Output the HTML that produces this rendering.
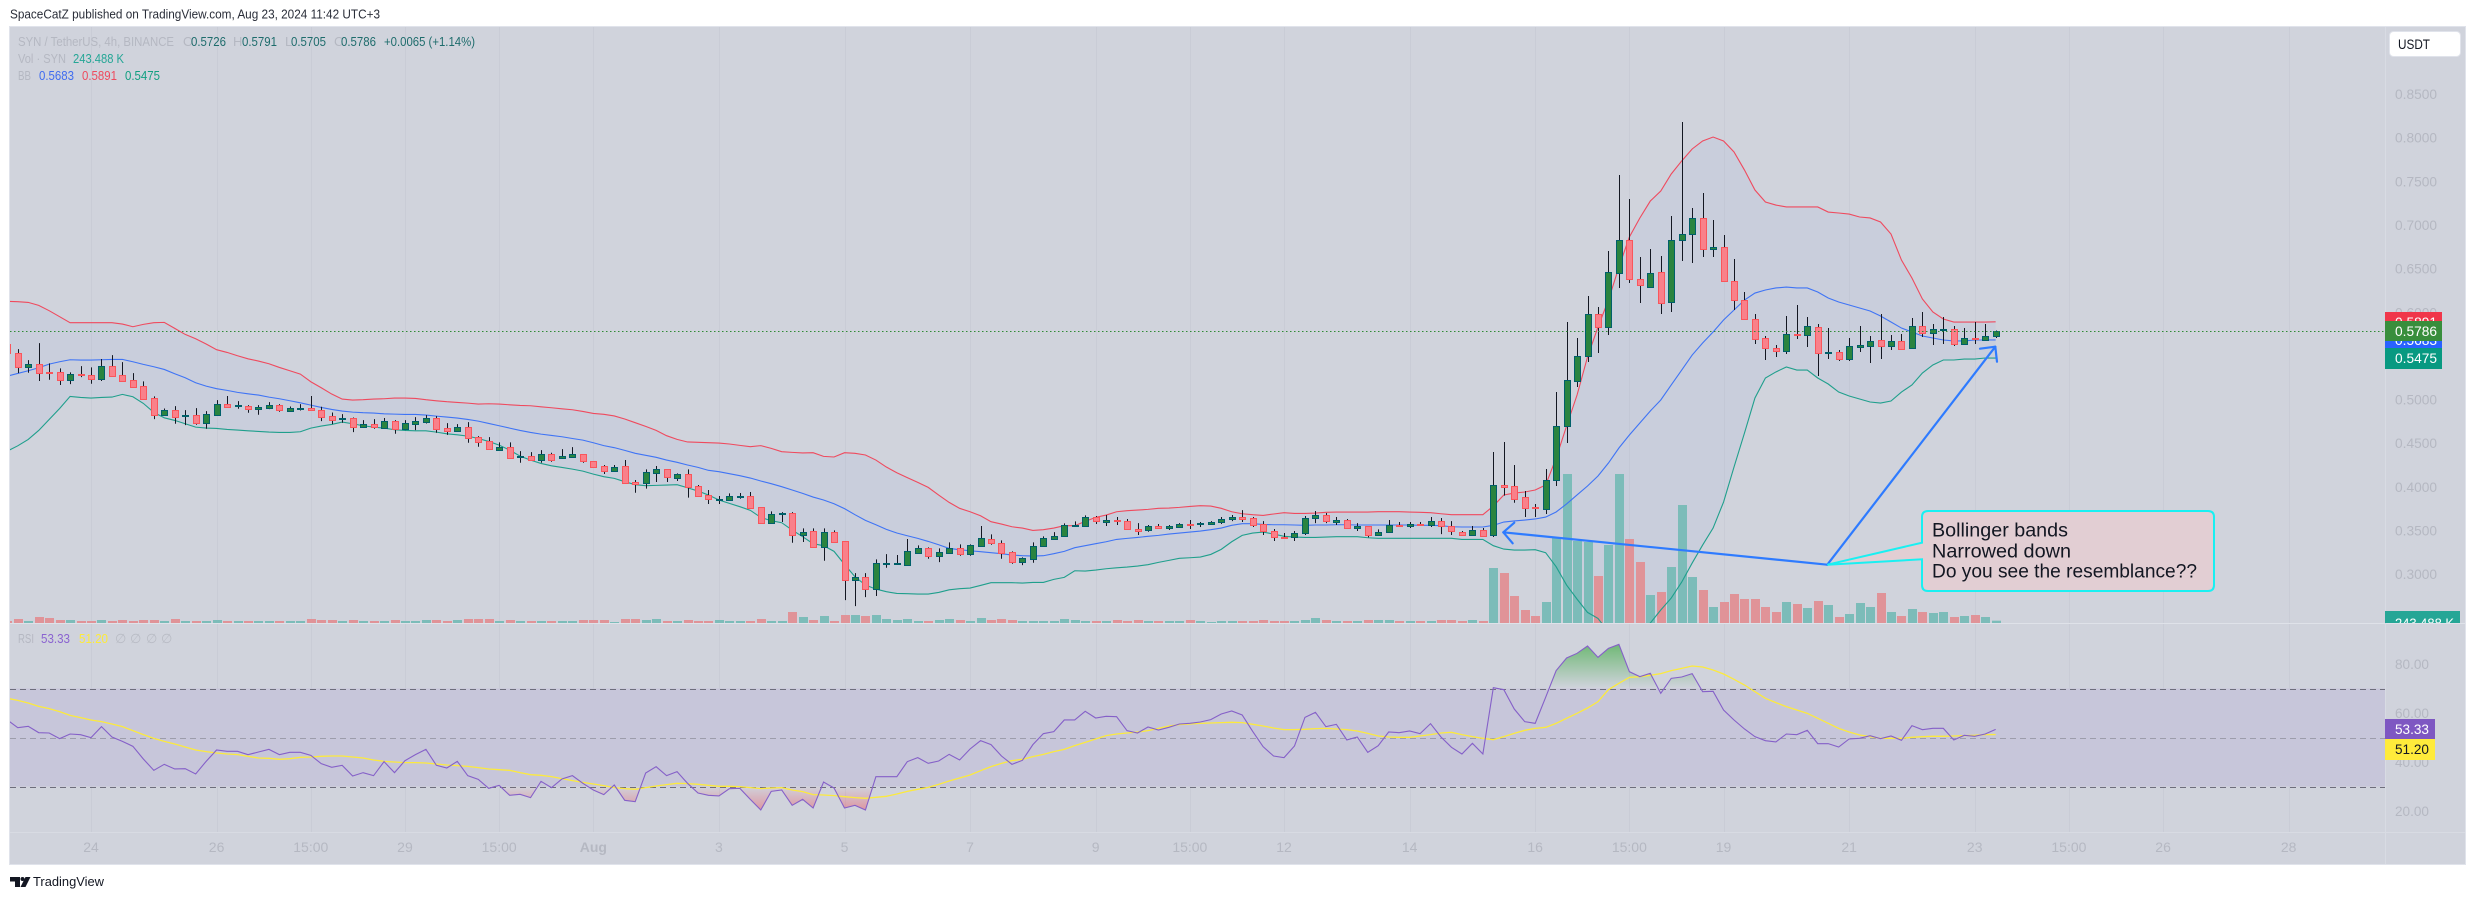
<!DOCTYPE html>
<html lang="en">
<head>
<meta charset="utf-8">
<title>SYN / TetherUS 4h chart</title>
<style>
html,body{margin:0;padding:0;background:#fff;width:2475px;height:899px;overflow:hidden}
svg{display:block;font-family:"Liberation Sans",Arial,sans-serif}
text{white-space:pre}
</style>
</head>
<body>
<svg id="chart" xmlns="http://www.w3.org/2000/svg" width="2475" height="899" viewBox="0 0 2475 899">
  <defs>
    <clipPath id="main-clip"><rect x="10" y="27" width="2375" height="596"/></clipPath>
    <clipPath id="rsi-clip"><rect x="10" y="623" width="2375" height="209"/></clipPath>
    <clipPath id="vol-label-clip"><rect x="2385" y="600" width="80" height="23"/></clipPath>
    <clipPath id="above-70"><rect x="10" y="623" width="2375" height="65.5"/></clipPath>
    <clipPath id="below-30"><rect x="10" y="786.5" width="2375" height="45"/></clipPath>
    <linearGradient id="ob-grad" gradientUnits="userSpaceOnUse" x1="0" y1="645" x2="0" y2="688">
      <stop offset="0" stop-color="#4caf50" stop-opacity="0.72"/><stop offset="1" stop-color="#4caf50" stop-opacity="0"/>
    </linearGradient>
    <linearGradient id="os-grad" gradientUnits="userSpaceOnUse" x1="0" y1="786" x2="0" y2="812">
      <stop offset="0" stop-color="#f23645" stop-opacity="0"/><stop offset="1" stop-color="#f23645" stop-opacity="0.42"/>
    </linearGradient>
  </defs>

  <rect x="0" y="0" width="2475" height="899" fill="#ffffff"/>
  <text x="10" y="18.5" font-size="12.5" fill="#2a2e39" textLength="370" lengthAdjust="spacingAndGlyphs">SpaceCatZ published on TradingView.com, Aug 23, 2024 11:42 UTC+3</text>

  <rect x="9.5" y="26.5" width="2456" height="838" fill="#d0d3dc" stroke="#e0e3eb" stroke-width="1"/>

  <g id="grid"></g>

  <rect x="10" y="688.5" width="2375" height="98" fill="#c7c6da"/>

  <g clip-path="url(#main-clip)">
    <path id="bb-fill" fill="#2a5ae0" fill-opacity="0.04"/>
    <g id="volume"></g>
    <path id="bb-basis" fill="none" stroke="#3f74f5" stroke-width="1.1"/>
    <path id="bb-upper" fill="none" stroke="#ef4a5e" stroke-width="1.1"/>
    <path id="bb-lower" fill="none" stroke="#1f9f8c" stroke-width="1.1"/>
    <g id="candles"></g>
    <line id="last-price-line" x1="10" x2="2385" stroke="#2f8a35" stroke-width="1" stroke-dasharray="1.5 2.5"/>
  </g>

  <g stroke-width="1" stroke-dasharray="6 4">
    <line id="rsi-level-70" x1="10" x2="2385" stroke="#6e6e7c"/>
    <line id="rsi-level-50" x1="10" x2="2385" stroke="#9d9dab"/>
    <line id="rsi-level-30" x1="10" x2="2385" stroke="#6e6e7c"/>
  </g>
  <g clip-path="url(#rsi-clip)">
    <g clip-path="url(#above-70)"><path id="rsi-ob-fill" fill="url(#ob-grad)"/></g>
    <g clip-path="url(#below-30)"><path id="rsi-os-fill" fill="url(#os-grad)"/></g>
    <path id="rsi-ma-line" fill="none" stroke="#fcea3d" stroke-width="1.3"/>
    <path id="rsi-line" fill="none" stroke="#8560c8" stroke-width="1.1"/>
  </g>

  <g stroke="#dfe2e9" stroke-width="1">
    <line x1="10" x2="2465" y1="623.5" y2="623.5"/>
    <line x1="10" x2="2465" y1="832.5" y2="832.5" stroke="#d8dbe3"/>
    <line x1="2385.5" x2="2385.5" y1="27" y2="864" stroke="#d8dbe3"/>
  </g>

  <g id="price-ticks"></g>
  <g id="rsi-ticks"></g>
  <g id="time-ticks"></g>

  <g font-size="13">
    <text x="18" y="46" fill="#b5b8c2" textLength="156" lengthAdjust="spacingAndGlyphs">SYN / TetherUS, 4h, BINANCE</text>
    <text x="183" y="46" fill="#b5b8c2">O</text>
    <text x="191" y="46" fill="#1e6c6c" textLength="35" lengthAdjust="spacingAndGlyphs">0.5726</text>
    <text x="233" y="46" fill="#b5b8c2">H</text>
    <text x="242" y="46" fill="#1e6c6c" textLength="35" lengthAdjust="spacingAndGlyphs">0.5791</text>
    <text x="285" y="46" fill="#b5b8c2">L</text>
    <text x="291" y="46" fill="#1e6c6c" textLength="35" lengthAdjust="spacingAndGlyphs">0.5705</text>
    <text x="334" y="46" fill="#b5b8c2">C</text>
    <text x="341" y="46" fill="#1e6c6c" textLength="35" lengthAdjust="spacingAndGlyphs">0.5786</text>
    <text x="384" y="46" fill="#1e6c6c" textLength="91" lengthAdjust="spacingAndGlyphs">+0.0065 (+1.14%)</text>
    <text x="18" y="63" fill="#b5b8c2" textLength="48" lengthAdjust="spacingAndGlyphs">Vol · SYN</text>
    <text x="73" y="63" fill="#25a696" textLength="51" lengthAdjust="spacingAndGlyphs">243.488 K</text>
    <text x="18" y="80" fill="#b5b8c2" textLength="13" lengthAdjust="spacingAndGlyphs">BB</text>
    <text x="39" y="80" fill="#3f6cf0" textLength="35" lengthAdjust="spacingAndGlyphs">0.5683</text>
    <text x="82" y="80" fill="#ee4a5e" textLength="35" lengthAdjust="spacingAndGlyphs">0.5891</text>
    <text x="125" y="80" fill="#109f80" textLength="35" lengthAdjust="spacingAndGlyphs">0.5475</text>
    <text x="18" y="643" fill="#b5b8c2" textLength="16" lengthAdjust="spacingAndGlyphs">RSI</text>
    <text x="41" y="643" fill="#8a63d0" textLength="29" lengthAdjust="spacingAndGlyphs">53.33</text>
    <text x="79" y="643" fill="#fdeb3a" textLength="29" lengthAdjust="spacingAndGlyphs">51.20</text>
    <text x="115" y="643" fill="#b9bcc5">∅</text>
    <text x="130" y="643" fill="#b9bcc5">∅</text>
    <text x="146" y="643" fill="#b9bcc5">∅</text>
    <text x="161" y="643" fill="#b9bcc5">∅</text>
  </g>

  <g>
    <rect x="2389.5" y="31.5" width="71" height="25" rx="4" fill="#ffffff" stroke="#e0e3eb"/>
    <text x="2398" y="49" font-size="14" fill="#131722" textLength="32" lengthAdjust="spacingAndGlyphs">USDT</text>
  </g>

  <g font-size="13.7" fill="#ffffff">
    <rect x="2385" y="312" width="57" height="20" fill="#f0364a"/>
    <text x="2395" y="327" textLength="42" lengthAdjust="spacingAndGlyphs">0.5891</text>
    <rect x="2385" y="330" width="57" height="20" fill="#2962ff"/>
    <text x="2395" y="345" textLength="42" lengthAdjust="spacingAndGlyphs">0.5683</text>
    <rect x="2385" y="321" width="57" height="20" fill="#388e3c"/>
    <text x="2395" y="336" textLength="42" lengthAdjust="spacingAndGlyphs">0.5786</text>
    <rect x="2385" y="348" width="57" height="21" fill="#089981"/>
    <text x="2395" y="363" textLength="42" lengthAdjust="spacingAndGlyphs">0.5475</text>
    <g clip-path="url(#vol-label-clip)">
      <rect x="2385" y="611" width="75" height="23" fill="#25a696"/>
      <text x="2395" y="628" textLength="59" lengthAdjust="spacingAndGlyphs">243.488 K</text>
    </g>
    <rect x="2385" y="719" width="50" height="20" fill="#7e57c2"/>
    <text x="2395" y="734" textLength="34" lengthAdjust="spacingAndGlyphs">53.33</text>
    <rect x="2385" y="739" width="50" height="21" fill="#ffeb3b"/>
    <text x="2395" y="754" fill="#131722" textLength="34" lengthAdjust="spacingAndGlyphs">51.20</text>
  </g>

  <g>
    <g fill="none" stroke="#2e7bff" stroke-width="2.2" stroke-linecap="round" stroke-linejoin="round">
      <path d="M1827.3 564.7L1503.3 532.3"/>
      <path d="M1514.3 522.7L1503.3 532.3L1512.7 543.3"/>
    </g>
    <g fill="none" stroke="#2e7bff" stroke-width="2.2" stroke-linecap="round" stroke-linejoin="round">
      <path d="M1827.3 564.7L1995.3 346.7"/>
      <path d="M1980 348.7L1995.3 346.7L1997 361.7"/>
    </g>
    <path d="M1928 511H2208Q2214 511 2214 517V585Q2214 591 2208 591H1928Q1922 591 1922 585V559.3L1827.3 564.7L1922 542.7V517Q1922 511 1928 511Z" fill="#e2ced3" stroke="#19f0f2" stroke-width="2"/>
    <text x="1932" y="536.7" font-size="19" fill="#131722" textLength="136" lengthAdjust="spacingAndGlyphs">Bollinger bands</text>
    <text x="1932" y="557.3" font-size="19" fill="#131722" textLength="139" lengthAdjust="spacingAndGlyphs">Narrowed down</text>
    <text x="1932" y="577.3" font-size="19" fill="#131722" textLength="265" lengthAdjust="spacingAndGlyphs">Do you see the resemblance??</text>
  </g>

  <g fill="#131722">
    <path d="M10 877H20V887H15V881.5H10Z"/>
    <circle cx="22.5" cy="879" r="2"/>
    <path d="M25.5 877H30.5L25.5 887H20.5Z"/>
    <text x="33" y="886" font-size="12.5" textLength="71" lengthAdjust="spacingAndGlyphs">TradingView</text>
  </g>
</svg>

<script>
const priceTicks = [0.85,0.80,0.75,0.70,0.65,0.60,0.55,0.50,0.45,0.40,0.35,0.30];
const rsiTicks = [80,60,40,20];
const rsiLevels = [70,50,30];
const timeTickLabels = ['24','26','15:00','29','15:00','Aug','3','5','7','9','15:00','12','14','16','15:00','19','21','23','15:00','26','28'];
const timeTickBars = [8,20,29,38,47,56,68,80,92,104,113,122,134,146,155,164,176,188,197,206,218];

const open = [.5636,.5529,.5376,.5403,.5311,.5311,.5227,.5288,.5277,.5238,
.5380,.5277,.5219,.5150,.5013,.4826,.4875,.4814,.4818,.4734,
.4826,.4944,.4929,.4921,.4894,.4906,.4933,.4872,.4894,.4898,
.4875,.4807,.4780,.4784,.4688,.4715,.4677,.4749,.4665,.4722,
.4745,.4784,.4669,.4642,.4681,.4566,.4520,.4425,.4451,.4348,
.4348,.4310,.4371,.4325,.4344,.4371,.4291,.4239,.4185,.4239,
.4055,.4040,.4162,.4200,.4105,.4143,.4006,.3902,.3849,.3853,
.3887,.3891,.3765,.3589,.3692,.3696,.3452,.3490,.3314,.3478,
.3375,.2936,.2963,.2833,.3119,.3119,.3108,.3246,.3295,.3211,
.3246,.3295,.3234,.3326,.3398,.3352,.3249,.3142,.3177,.3318,
.3406,.3440,.3555,.3555,.3650,.3601,.3620,.3605,.3513,.3501,
.3547,.3524,.3543,.3574,.3578,.3578,.3593,.3635,.3654,.3639,
.3570,.3490,.3425,.3421,.3467,.3639,.3673,.3601,.3616,.3524,
.3547,.3444,.3478,.3559,.3555,.3570,.3559,.3605,.3547,.3478,
.3444,.3501,.3444,.4017,.4006,.3880,.3765,.3742,.4078,.4697,
.5212,.5499,.5980,.5831,.6450,.6828,.6381,.6289,.6461,.6117,
.6828,.6896,.7080,.6724,.6747,.6358,.6140,.5923,.5705,.5590,
.5556,.5751,.5739,.5831,.5533,.5545,.5464,.5602,.5613,.5682,
.5613,.5671,.5590,.5842,.5762,.5797,.5808,.5636,.5705,.5682,.5726];

const high = [.5636,.5578,.5452,.5647,.5414,.5357,.5311,.5383,.5368,.5464,
.5509,.5429,.5303,.5208,.5036,.4898,.4925,.4879,.4902,.4868,
.4994,.5040,.4982,.4936,.4936,.4971,.4948,.4921,.4948,.5040,
.4917,.4852,.4833,.4795,.4765,.4776,.4788,.4765,.4765,.4799,
.4822,.4810,.4730,.4719,.4742,.4581,.4570,.4509,.4509,.4409,
.4398,.4421,.4390,.4432,.4455,.4371,.4291,.4250,.4250,.4307,
.4078,.4200,.4239,.4200,.4155,.4200,.4021,.3964,.3895,.3925,
.3929,.3941,.3765,.3719,.3711,.3711,.3524,.3524,.3524,.3501,
.3375,.3012,.3012,.3169,.3230,.3219,.3402,.3329,.3307,.3295,
.3364,.3341,.3341,.3551,.3456,.3387,.3261,.3192,.3364,.3433,
.3482,.3582,.3605,.3673,.3666,.3677,.3654,.3631,.3585,.3563,
.3574,.3563,.3585,.3620,.3597,.3608,.3654,.3677,.3734,.3654,
.3608,.3517,.3471,.3494,.3666,.3723,.3700,.3654,.3631,.3585,
.3547,.3513,.3620,.3597,.3597,.3597,.3654,.3643,.3608,.3494,
.3551,.3528,.4399,.4514,.4250,.3952,.3803,.4204,.5086,.5888,
.5705,.6186,.6060,.6702,.7572,.7297,.6633,.6724,.6644,.7102,
.8179,.7194,.7366,.7057,.6885,.6610,.6232,.5980,.5728,.5625,
.5957,.6083,.5946,.5865,.5819,.5567,.5705,.5842,.5728,.5980,
.5739,.5751,.5934,.6003,.5865,.5946,.5842,.5819,.5888,.5865,.5791];

const low = [.5529,.5303,.5307,.5212,.5227,.5166,.5177,.5257,.5181,.5212,
.5273,.5215,.5147,.5009,.4776,.4826,.4723,.4707,.4711,.4665,
.4826,.4917,.4894,.4849,.4826,.4891,.4860,.4860,.4875,.4875,
.4753,.4719,.4734,.4627,.4688,.4665,.4677,.4608,.4650,.4650,
.4726,.4619,.4596,.4642,.4505,.4459,.4436,.4425,.4321,.4276,
.4310,.4276,.4287,.4325,.4344,.4276,.4230,.4147,.4185,.4032,
.3933,.3979,.4055,.4055,.4067,.3876,.3887,.3803,.3803,.3853,
.3864,.3750,.3578,.3589,.3597,.3360,.3368,.3314,.3154,.3371,
.2703,.2634,.2737,.2749,.3074,.3108,.3108,.3246,.3177,.3138,
.3246,.3211,.3211,.3326,.3337,.3177,.3119,.3104,.3131,.3318,
.3406,.3425,.3543,.3555,.3574,.3551,.3563,.3513,.3448,.3486,
.3524,.3505,.3528,.3517,.3540,.3578,.3574,.3608,.3597,.3540,
.3448,.3379,.3402,.3379,.3448,.3585,.3585,.3563,.3524,.3494,
.3421,.3444,.3478,.3540,.3528,.3559,.3540,.3459,.3448,.3444,
.3444,.3433,.3425,.3899,.3818,.3654,.3654,.3689,.4010,.4502,
.5144,.5430,.5533,.5739,.6278,.6335,.6106,.6278,.5980,.6003,
.6587,.6564,.6633,.6633,.6346,.6026,.5923,.5636,.5453,.5487,
.5522,.5694,.5602,.5270,.5464,.5441,.5441,.5545,.5419,.5464,
.5567,.5567,.5579,.5716,.5625,.5636,.5613,.5636,.5636,.5682,.5705];

const close = [.5529,.5376,.5406,.5307,.5307,.5227,.5288,.5280,.5238,.5380,
.5273,.5215,.5147,.5009,.4826,.4875,.4803,.4818,.4734,.4830,
.4944,.4917,.4933,.4894,.4910,.4933,.4883,.4898,.4902,.4875,
.4803,.4768,.4784,.4688,.4715,.4684,.4749,.4665,.4726,.4749,
.4784,.4665,.4642,.4681,.4562,.4516,.4436,.4451,.4333,.4352,
.4310,.4371,.4310,.4348,.4371,.4291,.4230,.4185,.4223,.4048,
.4036,.4166,.4200,.4116,.4143,.4002,.3899,.3864,.3857,.3891,
.3895,.3761,.3589,.3685,.3700,.3444,.3478,.3314,.3478,.3371,
.2936,.2963,.2833,.3123,.3123,.3123,.3261,.3295,.3211,.3249,
.3295,.3234,.3329,.3410,.3360,.3238,.3142,.3181,.3318,.3410,
.3436,.3559,.3559,.3650,.3605,.3616,.3612,.3513,.3498,.3547,
.3524,.3547,.3570,.3566,.3585,.3597,.3627,.3654,.3635,.3559,
.3490,.3421,.3417,.3467,.3639,.3673,.3605,.3616,.3524,.3547,
.3444,.3478,.3559,.3555,.3570,.3559,.3605,.3547,.3490,.3444,
.3501,.3433,.4017,.4002,.3864,.3761,.3761,.4074,.4697,.5224,
.5499,.5980,.5831,.6461,.6828,.6381,.6312,.6450,.6106,.6828,
.6896,.7080,.6724,.6747,.6358,.6140,.5923,.5694,.5590,.5556,
.5751,.5739,.5842,.5533,.5545,.5464,.5613,.5625,.5671,.5613,
.5671,.5579,.5842,.5762,.5808,.5808,.5636,.5705,.5694,.5728,.5786];

const bbUpper = [.6125,.6121,.6113,.6079,.6018,.5949,.5880,.5880,.5880,.5880,
.5880,.5865,.5834,.5861,.5880,.5884,.5815,.5746,.5697,.5636,
.5571,.5540,.5502,.5467,.5441,.5410,.5368,.5330,.5292,.5204,
.5135,.5063,.5005,.4994,.4998,.5005,.5009,.5017,.5017,.5013,
.4998,.4986,.4975,.4967,.4959,.4948,.4952,.4948,.4940,.4933,
.4929,.4917,.4906,.4894,.4883,.4864,.4841,.4831,.4812,.4777,
.4735,.4693,.4647,.4586,.4544,.4514,.4510,.4506,.4502,.4491,
.4475,.4460,.4472,.4441,.4403,.4395,.4388,.4391,.4349,.4342,
.4391,.4384,.4365,.4307,.4227,.4162,.4105,.4051,.3994,.3906,
.3822,.3754,.3715,.3669,.3601,.3574,.3543,.3528,.3501,.3509,
.3528,.3555,.3555,.3605,.3650,.3677,.3715,.3727,.3734,.3742,
.3754,.3757,.3765,.3776,.3784,.3780,.3754,.3715,.3692,.3681,
.3673,.3689,.3704,.3696,.3696,.3700,.3708,.3711,.3711,.3711,
.3711,.3715,.3715,.3715,.3711,.3708,.3704,.3692,.3681,.3681,
.3681,.3681,.3780,.3907,.3929,.3941,.3964,.4021,.4330,.4697,
.5052,.5487,.5831,.6140,.6518,.6862,.7080,.7274,.7389,.7584,
.7733,.7870,.7962,.8007,.7962,.7836,.7629,.7400,.7263,.7228,
.7206,.7206,.7206,.7206,.7148,.7137,.7125,.7091,.7080,.7034,
.6896,.6598,.6392,.6152,.6003,.5923,.5888,.5888,.5888,.5888,.5891];

const bbBasis = [.5269,.5299,.5330,.5364,.5406,.5433,.5456,.5452,.5452,.5456,
.5460,.5460,.5433,.5403,.5376,.5345,.5296,.5250,.5192,.5154,
.5124,.5105,.5082,.5066,.5051,.5028,.5009,.4986,.4963,.4936,
.4910,.4887,.4868,.4856,.4849,.4845,.4837,.4833,.4830,.4830,
.4822,.4810,.4799,.4788,.4772,.4753,.4726,.4700,.4673,.4646,
.4623,.4604,.4589,.4574,.4554,.4535,.4505,.4472,.4449,.4418,
.4384,.4361,.4338,.4307,.4281,.4250,.4223,.4189,.4174,.4151,
.4128,.4101,.4067,.4036,.4002,.3964,.3925,.3883,.3849,.3807,
.3750,.3681,.3616,.3566,.3513,.3471,.3440,.3410,.3375,.3337,
.3295,.3280,.3268,.3257,.3246,.3234,.3219,.3211,.3207,.3211,
.3234,.3261,.3303,.3326,.3349,.3371,.3398,.3410,.3421,.3433,
.3444,.3459,.3471,.3482,.3494,.3509,.3528,.3559,.3578,.3578,
.3570,.3566,.3566,.3563,.3559,.3563,.3563,.3566,.3566,.3563,
.3563,.3563,.3563,.3563,.3563,.3559,.3559,.3555,.3543,.3540,
.3540,.3540,.3559,.3597,.3609,.3620,.3632,.3654,.3712,.3804,
.3907,.4010,.4124,.4273,.4445,.4594,.4731,.4869,.4995,.5167,
.5338,.5510,.5648,.5774,.5911,.6026,.6140,.6220,.6255,.6278,
.6289,.6278,.6278,.6232,.6163,.6117,.6083,.6049,.6014,.5957,
.5888,.5819,.5774,.5728,.5705,.5682,.5671,.5671,.5682,.5682,.5683];

const bbLower = [.4409,.4470,.4543,.4646,.4772,.4898,.5036,.5024,.5017,.5024,
.5028,.5059,.5032,.4956,.4852,.4791,.4761,.4723,.4684,.4673,
.4669,.4658,.4650,.4642,.4635,.4627,.4623,.4623,.4631,.4673,
.4696,.4715,.4742,.4723,.4700,.4684,.4673,.4654,.4646,.4642,
.4642,.4627,.4608,.4596,.4581,.4554,.4520,.4478,.4421,.4352,
.4306,.4268,.4241,.4222,.4203,.4180,.4146,.4116,.4097,.4059,
.4025,.4013,.4017,.4021,.4025,.3990,.3952,.3906,.3849,.3811,
.3773,.3731,.3650,.3612,.3589,.3505,.3429,.3349,.3326,.3261,
.3112,.2970,.2875,.2829,.2799,.2779,.2776,.2772,.2772,.2791,
.2821,.2833,.2841,.2871,.2902,.2902,.2902,.2898,.2905,.2905,
.2940,.2963,.3039,.3035,.3047,.3062,.3073,.3081,.3093,.3108,
.3135,.3158,.3181,.3188,.3196,.3226,.3284,.3371,.3444,.3471,
.3482,.3459,.3433,.3425,.3421,.3421,.3425,.3429,.3429,.3429,
.3417,.3410,.3410,.3410,.3410,.3410,.3410,.3410,.3410,.3398,
.3398,.3398,.3326,.3287,.3276,.3276,.3280,.3246,.3085,.2875,
.2714,.2562,.2493,.2337,.2245,.2245,.2337,.2440,.2589,.2726,
.2909,.3127,.3333,.3528,.3826,.4227,.4617,.5018,.5247,.5316,
.5373,.5338,.5338,.5247,.5178,.5086,.5041,.5006,.4972,.4960,
.4983,.5086,.5167,.5304,.5396,.5453,.5453,.5464,.5464,.5476,.5475];

const volumeK = [210,420,210,630,525,315,315,210,210,315,
210,315,210,315,315,210,420,210,210,210,
315,210,210,210,210,210,210,210,210,420,
315,315,210,315,210,210,210,315,210,210,
315,315,210,315,420,420,420,210,315,210,
210,210,210,210,210,315,315,315,105,420,
420,315,420,210,210,315,210,210,315,210,
210,210,420,210,210,1155,630,315,735,210,
840,840,735,840,420,315,420,210,210,315,
420,315,210,525,315,420,315,210,210,210,
210,420,315,210,210,210,315,210,315,210,
210,210,210,315,210,105,210,210,210,210,
315,210,210,210,315,525,315,210,210,210,
315,315,315,210,210,210,210,315,315,210,
315,210,5775,5250,2835,1365,735,2205,9030,15645,
8610,8505,4935,8190,15645,8820,6405,2940,3255,5880,
12390,4830,3465,1680,2205,3045,2520,2520,1680,1155,
2205,1995,1575,2310,1890,630,945,2100,1680,3150,
1155,735,1470,1155,1050,1155,630,735,840,630,243.488];

const rsi = [57.15,54.02,54.56,51.98,51.84,49.53,51.43,51.16,49.93,54.42,
50.21,48.44,46.40,41.23,36.60,39.05,37.15,37.28,35.11,40.27,
44.90,44.36,44.36,43.00,44.08,45.17,43.00,43.95,43.95,42.72,
39.32,37.83,38.64,34.29,35.65,34.43,40.14,35.65,40.55,43.00,
45.17,38.64,37.55,40.27,34.43,32.93,29.25,30.48,26.40,26.81,
25.45,32.11,29.53,33.06,34.43,31.30,28.57,26.67,30.61,24.36,
23.81,35.51,38.10,34.43,36.06,31.30,27.35,26.40,26.13,29.12,
29.25,24.76,20.41,28.03,28.57,22.32,24.76,21.23,31.84,29.39,
21.23,22.32,20.41,34.02,34.02,34.02,40.14,41.77,39.46,40.41,
43.13,40.82,45.31,48.71,47.08,42.45,39.05,40.68,47.08,51.57,
52.38,57.15,57.15,60.68,57.96,58.64,58.50,52.79,51.84,54.29,
53.06,54.15,55.51,55.78,56.33,57.28,59.59,60.82,59.19,52.52,
46.26,42.45,41.77,46.53,58.23,60.27,54.42,55.38,49.00,50.21,
43.95,46.67,52.25,51.98,52.66,51.57,55.65,50.21,45.99,43.27,
47.62,43.27,70.34,69.53,61.63,56.46,55.78,66.40,77.28,82.45,
84.36,87.35,82.72,86.40,88.03,76.87,74.83,76.19,68.03,74.15,
74.69,76.06,68.71,68.84,61.23,57.15,53.47,50.34,48.71,48.17,
51.43,51.16,52.93,47.49,47.49,46.12,49.39,49.66,50.75,49.53,
50.61,48.85,54.83,53.20,53.74,53.74,49.00,50.89,50.48,51.43,53.33];

const rsiMa = [65.99,65.17,64.08,62.72,61.77,60.55,59.05,58.10,57.15,56.46,
55.51,54.42,52.79,51.16,49.66,48.44,47.35,46.12,44.90,44.22,
43.68,43.27,43.00,42.32,41.63,41.50,41.09,41.36,41.91,42.04,
42.32,42.45,42.45,42.04,41.63,40.82,40.27,40.00,39.73,39.73,
39.59,39.18,38.78,38.51,38.23,37.69,37.15,36.87,36.60,35.65,
34.83,34.56,34.02,33.20,32.38,31.70,31.02,30.34,29.53,29.12,
28.85,29.53,30.21,30.75,31.30,31.16,30.89,30.48,30.07,30.07,
29.94,29.53,29.12,29.39,29.53,28.57,27.89,26.67,26.53,26.26,
25.85,25.45,25.17,25.58,25.99,26.94,28.03,28.85,29.66,30.89,
32.25,33.47,34.70,36.46,38.10,39.46,40.55,41.09,42.18,43.13,
44.22,45.17,46.67,48.03,49.39,50.75,51.43,51.84,52.25,52.79,
53.74,54.70,55.24,55.51,55.78,55.92,56.06,56.19,56.06,55.38,
54.70,53.88,53.20,53.20,53.34,53.61,53.74,53.47,53.20,52.66,
51.70,50.61,50.21,50.07,50.07,50.61,51.16,51.84,52.11,51.16,
50.34,49.66,49.12,50.34,51.70,52.93,53.74,54.15,55.78,57.82,
59.87,62.04,64.63,69.53,72.11,74.56,74.83,75.38,76.06,77.28,
78.23,79.18,78.78,77.55,75.92,73.74,71.43,68.71,65.99,64.22,
62.59,61.23,59.87,57.82,55.78,53.74,52.25,51.02,50.34,49.66,
49.66,49.66,50.07,50.34,50.48,50.48,50.61,50.75,50.89,51.16,51.20];

const SVGNS = 'http://www.w3.org/2000/svg';
function barX(i){ return 7.3 + 10.465 * i; }
function yPrice(p){ return 94 + (0.85 - p) * 873; }
function yVolume(v){ return 623 - v / 105; }
function yRsi(r){ return 664 + (80 - r) * 2.45; }
function shape(tag, attrs, parent){
  const el = document.createElementNS(SVGNS, tag);
  for (const k in attrs) el.setAttribute(k, attrs[k]);
  parent.appendChild(el);
  return el;
}
function linePath(values, yFn){
  return values.map(function(v, i){ return (i ? 'L' : 'M') + barX(i).toFixed(2) + ' ' + yFn(v).toFixed(2); }).join('');
}

const gridG = document.getElementById('grid');
const timeG = document.getElementById('time-ticks');
timeTickBars.forEach(function(b, n){
  const cx = barX(b);
  const g = shape('line', {x1: Math.round(cx)+.5, x2: Math.round(cx)+.5, y1: 27, y2: 832, stroke: '#c9ccd6', 'stroke-width': 1}, gridG);
  
  
  const isBold = timeTickLabels[n] === 'Aug';
  const t = shape('text', {x: cx, y: 852, 'font-size': 14, 'text-anchor': 'middle', fill: '#b5b8c2', 'font-weight': isBold ? 'bold' : 'normal'}, timeG);
  
  
  t.textContent = timeTickLabels[n];
});

const priceG = document.getElementById('price-ticks');
priceTicks.forEach(function(p){
  const t = shape('text', {x: 2395, y: yPrice(p) + 5, 'font-size': 13.7, fill: '#b5b8c2', textLength: 42, lengthAdjust: 'spacingAndGlyphs'}, priceG);
  
  
  t.textContent = p.toFixed(4);
});
const rsiG = document.getElementById('rsi-ticks');
rsiTicks.forEach(function(r){
  const t = shape('text', {x: 2395, y: yRsi(r) + 5, 'font-size': 13.7, fill: '#b5b8c2', textLength: 34, lengthAdjust: 'spacingAndGlyphs'}, rsiG);
  
  
  t.textContent = r.toFixed(2);
});

document.getElementById('bb-upper').setAttribute('d', linePath(bbUpper, yPrice));
document.getElementById('bb-basis').setAttribute('d', linePath(bbBasis, yPrice));
document.getElementById('bb-lower').setAttribute('d', linePath(bbLower, yPrice));
let fillD = linePath(bbUpper, yPrice);
for (let i = bbLower.length - 1; i >= 0; i--) fillD += 'L' + barX(i).toFixed(2) + ' ' + yPrice(bbLower[i]).toFixed(2);
document.getElementById('bb-fill').setAttribute('d', fillD + 'Z');

const volG = document.getElementById('volume');
volumeK.forEach(function(v, i){
  const cx = Math.round(barX(i));
  const up = close[i] >= open[i];
  const top = yVolume(v);
  const r = shape('rect', {x: cx - 4, y: top.toFixed(2), width: 9, height: (623 - top).toFixed(2), fill: up ? '#7cbcb9' : '#e09398'}, volG);
  
  
});

const candleG = document.getElementById('candles');
open.forEach(function(o, i){
  const c = close[i];
  const up = c >= o;
  const cx = Math.round(barX(i)) + .5;
  const w = shape('line', {x1: cx, x2: cx, y1: yPrice(high[i]).toFixed(2), y2: yPrice(low[i]).toFixed(2), stroke: '#131722', 'stroke-width': 1}, candleG);
  
  
  const top = Math.round(yPrice(Math.max(o, c))) + .5;
  const bot = Math.max(Math.round(yPrice(Math.min(o, c))) + .5, top + 1);
  const b = shape('rect', {x: cx - 3, y: top, width: 6, height: bot - top, fill: up ? '#2a843f' : '#f9808a', stroke: up ? '#00606a' : '#f9565c', 'stroke-width': 1}, candleG);
  
  
});

const lastY = Math.round(yPrice(close[close.length - 1])) + .5;
const lp = document.getElementById('last-price-line');
lp.setAttribute('y1', lastY);
lp.setAttribute('y2', lastY);

document.getElementById('rsi-level-70').setAttribute('y1', Math.round(yRsi(rsiLevels[0])) + .5);
document.getElementById('rsi-level-70').setAttribute('y2', Math.round(yRsi(rsiLevels[0])) + .5);
document.getElementById('rsi-level-50').setAttribute('y1', Math.round(yRsi(rsiLevels[1])) + .5);
document.getElementById('rsi-level-50').setAttribute('y2', Math.round(yRsi(rsiLevels[1])) + .5);
document.getElementById('rsi-level-30').setAttribute('y1', Math.round(yRsi(rsiLevels[2])) + .5);
document.getElementById('rsi-level-30').setAttribute('y2', Math.round(yRsi(rsiLevels[2])) + .5);

const rsiD = linePath(rsi, yRsi);
document.getElementById('rsi-line').setAttribute('d', rsiD);
document.getElementById('rsi-ma-line').setAttribute('d', linePath(rsiMa, yRsi));
const xStart = barX(0).toFixed(2), xEnd = barX(rsi.length - 1).toFixed(2);
document.getElementById('rsi-ob-fill').setAttribute('d', rsiD + 'L' + xEnd + ' ' + yRsi(rsiLevels[0]) + 'L' + xStart + ' ' + yRsi(rsiLevels[0]) + 'Z');
document.getElementById('rsi-os-fill').setAttribute('d', rsiD + 'L' + xEnd + ' ' + yRsi(rsiLevels[2]) + 'L' + xStart + ' ' + yRsi(rsiLevels[2]) + 'Z');
</script>
</body>
</html>
